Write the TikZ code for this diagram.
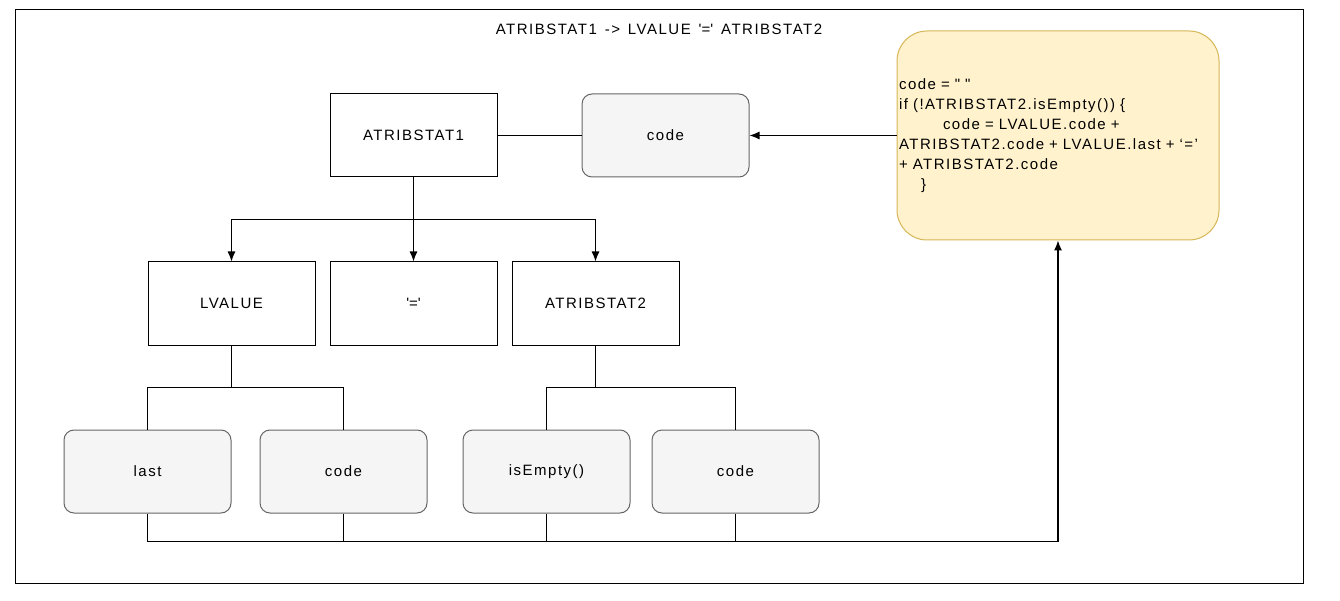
\documentclass[tikz,border=0pt]{standalone}
\usepackage{fontspec}
\setmainfont{Liberation Sans}[LetterSpace=10,WordSpace=1.4]
\usetikzlibrary{arrows.meta}
\definecolor{attrfill}{HTML}{F5F5F5}
\definecolor{attrline}{HTML}{666666}
\definecolor{semfill}{HTML}{FFF2CC}
\definecolor{semline}{HTML}{D6B656}
\begin{document}
\begin{tikzpicture}[x=1pt,y=-1pt,
  every node/.style={font=\fontsize{15}{20}\selectfont},
  box/.style={draw,line width=1pt,minimum width=167pt,minimum height=83pt,inner sep=0pt},
  attr/.style={box,rounded corners=10pt,draw=attrline,fill=attrfill},
  semrule/.style={draw=semline,fill=semfill,line width=1pt,rounded corners=30pt,
    minimum width=322pt,minimum height=209pt,inner sep=2pt,text width=318pt,align=left},
  rule/.style={line width=1.2pt,-{Latex[length=10pt,width=8pt]}},
  link/.style={line width=1pt}]
\useasboundingbox (0,0) rectangle (1340,601);
\draw[line width=1pt] (15,10) rectangle (1303,583);
\node (title) at (659,29) {ATRIBSTAT1 -> LVALUE \textquotesingle=\textquotesingle{} ATRIBSTAT2};
% tree
\node[box] (at1) at (413.5,135.5) {ATRIBSTAT1};
\node[attr] (at1code) at (665.5,135.5) {code};
\node[box] (lv) at (231.5,303.5) {LVALUE};
\node[box] (eq) at (413.5,303.5) {\textquotesingle=\textquotesingle};
\node[box] (at2) at (595.5,303.5) {ATRIBSTAT2};
\node[attr] (lvlast) at (147.5,471.5) {last};
\node[attr] (lvcode) at (343.5,471.5) {code};
\node[attr] (at2empty) at (546.5,471.5) {isEmpty()};
\node[attr] (at2code) at (735.5,471.5) {code};
% semantic rule
\node[semrule] (sem) at (1058,135.5) {code = \textquotedbl{} \textquotedbl\\
if (!ATRIBSTAT2.isEmpty()) \{\\
\hspace*{44pt}code = LVALUE.code +\\
ATRIBSTAT2.code + LVALUE.last + ‘=’\\
+ ATRIBSTAT2.code\\
\hspace*{22pt}\}};
\draw[link] (at1) -- (at1code);
\draw[rule] (sem) -- (at1code);
\draw[link] (at1.south) -- ++(0,42) coordinate (fork1);
\draw[rule] (fork1) -| (lv);
\draw[rule] (fork1) -- (eq);
\draw[rule] (fork1) -| (at2);
\draw[link] (lv.south) -- ++(0,42) coordinate (fork2);
\draw[link] (fork2) -| (lvlast);
\draw[link] (fork2) -| (lvcode);
\draw[link] (at2.south) -- ++(0,42) coordinate (fork3);
\draw[link] (fork3) -| (at2empty);
\draw[link] (fork3) -| (at2code);
% attributes up to the rule
\draw[link] (lvlast.south) -- ++(0,28) coordinate (bus);
\draw[link] (lvcode.south) -- (lvcode.south |- bus);
\draw[link] (at2empty.south) -- (at2empty.south |- bus);
\draw[link] (at2code.south) -- (at2code.south |- bus);
\draw[rule] (bus) -| (sem);
\end{tikzpicture}
\end{document}
